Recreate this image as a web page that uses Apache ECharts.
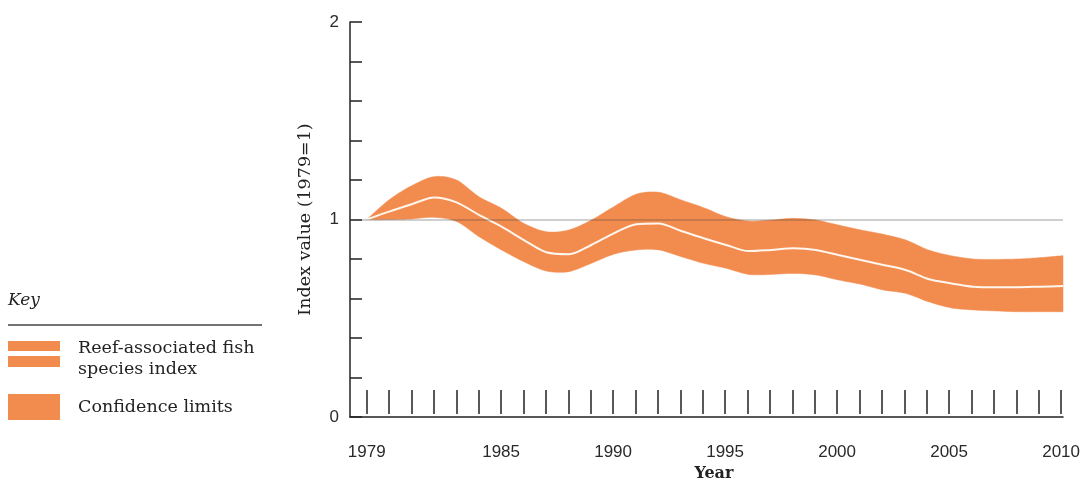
<!DOCTYPE html>
<html>
<head>
<meta charset="utf-8">
<script src="https://cdn.jsdelivr.net/npm/echarts@6/dist/echarts.min.js"></script>
<style>html,body{margin:0;padding:0;background:#fff;}#c{width:1083px;height:487px;}</style>
</head>
<body>
<div id="c"></div>
<script>
const years = [1979,1980,1981,1982,1983,1984,1985,1986,1987,1988,1989,1990,1991,1992,1993,1994,1995,1996,1997,1998,1999,2000,2001,2002,2003,2004,2005,2006,2007,2008,2009,2010];
const indexValues = [1.000,1.040,1.077,1.112,1.087,1.023,0.964,0.896,0.834,0.824,0.871,0.930,0.976,0.980,0.942,0.905,0.871,0.840,0.846,0.854,0.846,0.820,0.795,0.770,0.744,0.699,0.677,0.660,0.657,0.657,0.660,0.663];
const upperLimit = [1.000,1.100,1.171,1.217,1.200,1.115,1.057,0.980,0.938,0.947,0.997,1.065,1.128,1.138,1.099,1.060,1.014,0.992,0.997,1.006,0.997,0.972,0.947,0.925,0.896,0.846,0.817,0.800,0.798,0.800,0.807,0.817];
const lowerLimit = [1.000,1.000,1.003,1.011,0.990,0.913,0.846,0.786,0.739,0.736,0.778,0.824,0.846,0.846,0.812,0.778,0.753,0.722,0.722,0.727,0.719,0.694,0.672,0.643,0.626,0.584,0.553,0.542,0.537,0.533,0.533,0.533];
const xLabelYears = [1979,1985,1990,1995,2000,2005,2010];
const yLabelValues = [0,1,2];

const ORANGE = '#F28B4E';
const INK = '#222';
const SERIF = '"DejaVu Serif", serif';
const SANS = '"Liberation Sans", Arial, sans-serif';

const chart = echarts.init(document.getElementById('c'), null, {renderer: 'canvas'});
const bandData = years.map((y, i) => [y, lowerLimit[i], upperLimit[i]]);
const centerPts = years.map((y, i) => [y, indexValues[i]]);

const pxPerYear = (1063 - 366.7) / (2010 - 1979);
const xMin0 = 1979 - (366.7 - 350) / pxPerYear;

// render-time curve drawing through pixel points (cubic bezier, Catmull-Rom style tangents)
function curvePoints(pts, k) {
  const out = [pts[0]];
  const n = pts.length;
  for (let i = 0; i < n - 1; i++) {
    const p0 = pts[Math.max(i - 1, 0)], p1 = pts[i], p2 = pts[i + 1], p3 = pts[Math.min(i + 2, n - 1)];
    const c1 = [p1[0] + (p2[0] - p0[0]) * k, p1[1] + (p2[1] - p0[1]) * k];
    const c2 = [p2[0] - (p3[0] - p1[0]) * k, p2[1] - (p3[1] - p1[1]) * k];
    for (let s = 1; s <= 10; s++) {
      const t = s / 10, u = 1 - t;
      out.push([
        u*u*u*p1[0] + 3*u*u*t*c1[0] + 3*u*t*t*c2[0] + t*t*t*p2[0],
        u*u*u*p1[1] + 3*u*u*t*c1[1] + 3*u*t*t*c2[1] + t*t*t*p2[1]
      ]);
    }
  }
  return out;
}

function renderBand(params, api) {
  if (params.dataIndex !== 0) return null;
  const top = curvePoints(bandData.map(d => api.coord([d[0], d[2]])), 0.15);
  const bottom = curvePoints(bandData.map(d => api.coord([d[0], d[1]])), 0.15).reverse();
  return {
    type: 'polygon', shape: {points: top.concat(bottom)},
    style: {fill: ORANGE, stroke: ORANGE, lineWidth: 0.5}
  };
}

chart.setOption({
  animation: false,
  backgroundColor: '#fff',
  grid: [
    {left: 350, right: 20, top: 22, bottom: 70},
    {left: 366.7, right: 20, top: 22, bottom: 70}
  ],
  xAxis: [
    {type: 'value', gridIndex: 0, min: xMin0, max: 2010,
     axisLine: {show: true, lineStyle: {color: INK, width: 1.5}},
     axisTick: {show: false}, axisLabel: {show: false}, splitLine: {show: false}},
    {type: 'value', gridIndex: 1, min: 1979, max: 2010, interval: 1,
     axisLine: {show: false},
     axisTick: {show: true, inside: true, length: 24, lineStyle: {color: INK, width: 1.5}},
     axisLabel: {show: true, margin: 30, fontFamily: SANS, fontSize: 17, color: '#2a2a2a',
       showMinLabel: true, showMaxLabel: true,
       formatter: v => xLabelYears.indexOf(Math.round(v)) >= 0 ? String(Math.round(v)) : ''},
     splitLine: {show: false},
     name: 'Year', nameLocation: 'middle', nameGap: 51,
     nameTextStyle: {fontFamily: SERIF, fontSize: 16, color: '#222', fontWeight: 'bold'}}
  ],
  yAxis: [
    {type: 'value', gridIndex: 0, min: 0, max: 2, interval: 0.2,
     axisLine: {show: true, lineStyle: {color: INK, width: 1.5}},
     axisTick: {show: true, inside: true, length: 12, lineStyle: {color: INK, width: 1.5}},
     axisLabel: {show: true, margin: 11, fontFamily: SANS, fontSize: 17, color: '#2a2a2a',
       formatter: v => yLabelValues.some(t => Math.abs(t - v) < 1e-6) ? String(Math.round(v)) : ''},
     splitLine: {show: false},
     name: 'Index value (1979=1)', nameLocation: 'middle', nameGap: 36, nameRotate: 90,
     nameTextStyle: {fontFamily: SERIF, fontSize: 17.5, color: '#222'}},
    {type: 'value', gridIndex: 1, min: 0, max: 2, show: false}
  ],
  legend: {
    orient: 'vertical', left: 8, top: 338, itemGap: 9, padding: 0,
    itemWidth: 52, itemHeight: 36,
    textStyle: {fontFamily: SERIF, fontSize: 17.5, color: '#222', lineHeight: 21, padding: [0, 0, 0, 13]},
    formatter: n => n === 'Reef-associated fish species index' ? 'Reef-associated fish\nspecies index' : n,
    data: [
      {name: 'Reef-associated fish species index',
       icon: 'path://M0,0H52V10H0Z M0,15H52V26H0Z M0,36h0.01v-0.01h-0.01Z',
       itemStyle: {color: ORANGE, borderWidth: 0}},
      {name: 'Confidence limits',
       icon: 'path://M0,0h0.01v0.01h-0.01Z M0,5H52V31H0Z M0,36h0.01v-0.01h-0.01Z',
       itemStyle: {color: ORANGE, borderWidth: 0}}
    ]
  },
  graphic: [
    {type: 'text', left: 8, top: 292, style: {text: 'Key', font: 'italic 17px ' + SERIF, fill: '#222'}},
    {type: 'line', shape: {x1: 8, y1: 325, x2: 262, y2: 325}, style: {stroke: '#444', lineWidth: 1.5}}
  ],
  series: [
    {name: 'Confidence limits', type: 'custom', xAxisIndex: 0, yAxisIndex: 0,
     renderItem: renderBand, data: bandData, encode: {x: 0, y: [1, 2]},
     itemStyle: {color: ORANGE}, silent: true, z: 3, clip: false},
    {name: 'Reef-associated fish species index', type: 'line', xAxisIndex: 0, yAxisIndex: 0, data: centerPts,
     smooth: 0.3, symbol: 'none', itemStyle: {color: ORANGE},
     lineStyle: {color: '#FFF6EE', width: 2}, silent: true, z: 4,
     markLine: {silent: true, symbol: 'none', label: {show: false},
       lineStyle: {color: 'rgba(70,70,70,0.35)', width: 1.5, type: 'solid'},
       data: [{yAxis: 1}]}}
  ]
});
</script>
</body>
</html>
